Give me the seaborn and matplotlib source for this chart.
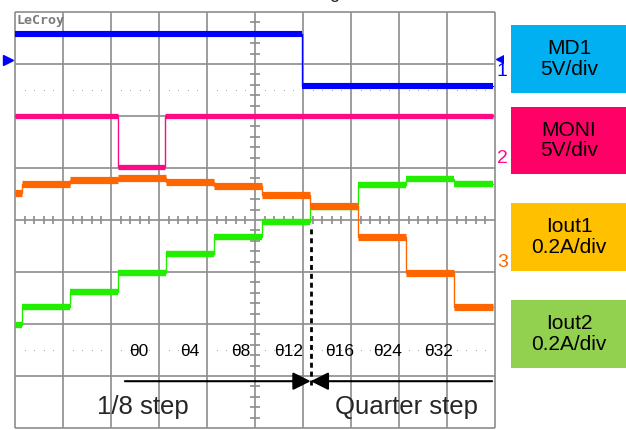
import numpy as np
import pandas as pd
import matplotlib
matplotlib.use("Agg")
import matplotlib.pyplot as plt
from matplotlib.patches import Rectangle
import seaborn as sns

# scope screen units: x in divisions (0-10), y in divisions from bottom (0-8)
md1_t = [0.0, 5.98, 9.95]
md1_v = [7.58, 6.58, 6.58]

moni_t = [0.0, 2.15, 3.12, 9.95]
moni_v = [6.0, 5.02, 6.0, 6.0]

step_t = [0.0, 0.14, 1.14, 2.14, 3.14, 4.14, 5.14, 6.14, 7.14, 8.14, 9.14, 9.95]
iout1_v = [4.52, 4.69, 4.77, 4.81, 4.73, 4.65, 4.48, 4.27, 3.67, 2.98, 2.33, 2.33]
iout2_v = [1.98, 2.33, 2.62, 2.98, 3.35, 3.67, 3.96, 4.25, 4.67, 4.79, 4.69, 4.69]

theta_labels = ["θ0", "θ4", "θ8", "θ12", "θ16", "θ24", "θ32"]
theta_x = [2.58, 3.65, 4.7, 5.71, 6.77, 7.77, 8.83]

mode_change_t = 6.16
mode_labels = ["1/8 step", "Quarter step"]

channel_names = ["MD1\n5V/div", "MONI\n5V/div", "Iout1\n0.2A/div", "Iout2\n0.2A/div"]
channel_colors = ["#00B0F0", "#FF0066", "#FFC000", "#92D050"]
trace_colors = {"MD1": "#0000FF", "MONI": "#FF0A84", "Iout1": "#FF6600", "Iout2": "#22EE00"}

sns.set_style("white")
plt.rcParams['font.family'] = ['Liberation Sans', 'DejaVu Sans']

W, H = 626, 430
fig = plt.figure(figsize=(W / 100, H / 100), dpi=100)
ax = fig.add_axes([0, 0, 503 / W, 1])
ax.set_xlim(-15 / 48, (503 - 15) / 48)
ax.set_ylim(8 - (430 - 12) / 52, 8 + 12 / 52)
ax.axis('off')

grid_c = "#8C8C8C"
# graticule
ax.vlines(np.arange(0, 11), 0, 8, color=grid_c, lw=1.2, zorder=1)
ax.hlines(np.arange(0, 9), 0, 10, color=grid_c, lw=1.2, zorder=1)
minor = np.array([x for x in np.arange(0, 10.01, 0.2) if abs(x - round(x)) > 0.05])
ax.vlines(minor, 4 - 0.077, 4 + 0.077, color=grid_c, lw=1.2, zorder=1)
minor_y = np.array([y for y in np.arange(0, 8.01, 0.2) if abs(y - round(y)) > 0.05])
ax.hlines(minor_y, 5 - 0.11, 5 + 0.11, color=grid_c, lw=1.2, zorder=1)
for yy in [6.5, 1.5]:
    ax.plot(minor, np.full_like(minor, yy), ls="none", marker="s", ms=0.7,
            color="#A8A8A8", mew=0, zorder=1)

ax.text(0.04, 7.96, "LeCroy", ha="left", va="top", fontsize=9.5, color="#7A7A7A",
        family="DejaVu Sans Mono", fontweight="bold")


def draw_trace(t, v, color, band):
    df = pd.DataFrame({"t": t, "v": v})
    sns.lineplot(data=df, x="t", y="v", ax=ax, color=color, lw=1.0,
                 drawstyle="steps-post", estimator=None, sort=False, zorder=3)
    ax.hlines(v[:-1], t[:-1], t[1:], colors=color, lw=band, zorder=3)


draw_trace(step_t, iout2_v, trace_colors["Iout2"], 4.6)
draw_trace(step_t, iout1_v, trace_colors["Iout1"], 5.2)
draw_trace(moni_t, moni_v, trace_colors["MONI"], 3.8)
draw_trace(md1_t, md1_v, trace_colors["MD1"], 4.4)
ax.set_xlabel("")
ax.set_ylabel("")

# channel markers
ax.plot([-0.14], [7.08], marker=">", ms=7, color=trace_colors["MD1"], clip_on=False)
ax.plot([10.1], [7.1], marker="<", ms=6, color=trace_colors["MD1"], clip_on=True)
ax.text(10.04, 6.85, "1", color=trace_colors["MD1"], fontsize=14, ha="left", va="center")
ax.text(10.04, 5.19, "2", color=trace_colors["MONI"], fontsize=14, ha="left", va="center")
ax.text(10.04, 3.19, "3", color=trace_colors["Iout1"], fontsize=14, ha="left", va="center")

# theta labels
for x, lab in zip(theta_x, theta_labels):
    ax.text(x, 1.47, lab, ha="center", va="center", fontsize=12.5, color="black", zorder=4)

# mode change marker
ax.plot([mode_change_t, mode_change_t], [0.83, 3.88], color="black", lw=2,
        ls="--", dashes=(1.8, 1.4), zorder=4)
arrow = dict(arrowstyle="-|>,head_length=0.6,head_width=0.3", color="black", lw=1.5,
             mutation_scale=18, shrinkA=0, shrinkB=0)
ax.annotate("", xy=(mode_change_t, 0.9), xytext=(2.29, 0.9), arrowprops=arrow, zorder=4)
ax.annotate("", xy=(mode_change_t, 0.9), xytext=(9.94, 0.9), arrowprops=arrow, zorder=4)
ax.text(2.67, 0.4, mode_labels[0], ha="center", va="center", fontsize=18.5)
ax.text(8.15, 0.4, mode_labels[1], ha="center", va="center", fontsize=18.5)

# cut-off title descender
fig.text(334 / W, 1.0 + 1.5 / H, "g", ha="center", va="baseline", fontsize=13)

# channel legend boxes
boxes = [(25, 93), (107, 174), (203, 271), (300, 368)]
for (top, bot), name, col in zip(boxes, channel_names, channel_colors):
    fig.add_artist(Rectangle((511 / W, 1 - bot / H), 115 / W, (bot - top) / H,
                             transform=fig.transFigure, facecolor=col, edgecolor="none"))
    fig.text(569 / W, 1 - (top + bot) / 2 / H, name, ha="center", va="center",
             fontsize=15, linespacing=1.1, color="black")

fig.savefig("out.png", dpi=100)
